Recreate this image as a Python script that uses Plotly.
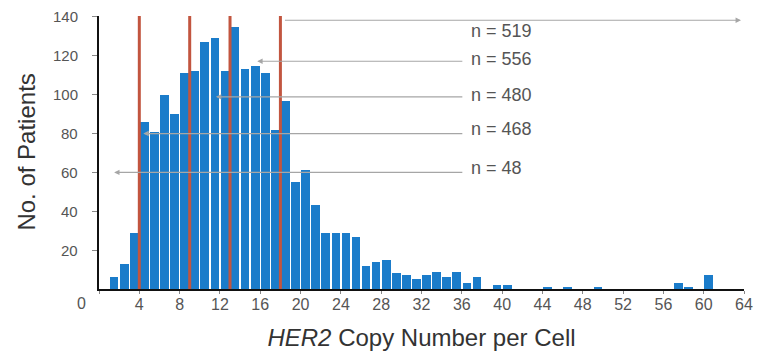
import plotly.graph_objects as go

# Patients per HER2 copy-number bin; bin k covers [k, k+1)
bin_start = list(range(1, 64))
patients = [
    6, 13, 29, 86, 81, 100, 90, 111, 112, 127,
    129, 112, 135, 113, 115, 111, 82, 97, 55, 61,
    43, 29, 29, 29, 27, 12, 14, 15, 8, 7,
    5, 7, 9, 6, 9, 3, 6, 0, 2, 2,
    0, 0, 0, 1, 0, 1, 0, 0, 1, 0,
    0, 0, 0, 0, 0, 0, 3, 1, 0, 7,
    0, 0, 0,
]

# Copy-number cut points drawn as vertical markers
cut_points = [4, 9, 13, 18]

# Group sizes and their pointer lines: (n, line y, arrow head x, arrow tail x, label y)
group_n = [519, 556, 480, 468, 48]
line_y = [138.3, 117.2, 98.9, 80.0, 60.0]
head_x = [63.7, 15.7, 11.6, 4.4, 1.5]
tail_x = [18.3, 36.2, 36.2, 36.2, 36.2]
label_y = [132.6, 118.6, 99.8, 82.6, 62.4]
label_x = 36.75

x_ticks = list(range(4, 65, 4))
y_ticks = list(range(20, 141, 20))

tick_font = "Liberation Sans Narrow, Arial Narrow, Liberation Sans, Arial, sans-serif"
title_font = "Liberation Sans, Arial, Helvetica, sans-serif"
tick_style = dict(family=tick_font, size=16, color="#555555")
ytick_style = dict(family=tick_font, size=15, color="#555555")

fig = go.Figure()
fig.add_trace(go.Bar(
    x=[b + 0.5 for b in bin_start],
    y=patients,
    width=0.86,
    marker=dict(color="#1b7cca", line=dict(width=0)),
    hoverinfo="x+y",
))

shapes = []
for c in cut_points:
    shapes.append(dict(type="line", xref="x", yref="y", x0=c, x1=c, y0=0, y1=141,
                       line=dict(color="#c2553f", width=3), layer="above"))

annotations = []
for n, ly, hx, tx, ty in zip(group_n, line_y, head_x, tail_x, label_y):
    annotations.append(dict(
        x=hx, y=ly, ax=tx, ay=ly, xref="x", yref="y", axref="x", ayref="y",
        text="", showarrow=True, arrowhead=2, arrowsize=0.9, arrowwidth=1.2,
        arrowcolor="#a6a6a6", standoff=0, startstandoff=0,
    ))
    annotations.append(dict(
        x=label_x, y=ty, xref="x", yref="y", text=f"n = {n}", showarrow=False,
        xanchor="left", yanchor="middle",
        font=dict(family=title_font, size=18, color="#555555"),
    ))

# Y tick labels, set a little further from the axis than Plotly's default
for v in y_ticks:
    annotations.append(dict(
        x=-0.029, y=v, xref="paper", yref="y", text=str(v), showarrow=False,
        xanchor="right", yanchor="middle", font=ytick_style,
    ))

# The zero label sits left of the vertical axis
annotations.append(dict(
    x=-0.0275, y=0, xref="paper", yref="paper", text="0", showarrow=False,
    xanchor="center", yanchor="top", yshift=-4, font=tick_style,
))

# Vertical axis title
annotations.append(dict(
    x=-0.113, y=0.5, xref="paper", yref="paper", text="No. of Patients",
    showarrow=False, textangle=-90, xanchor="center", yanchor="middle",
    font=dict(family=title_font, size=24, color="#333333"),
))

fig.update_layout(
    width=763, height=357,
    margin=dict(l=99, r=10, t=16, b=68),
    paper_bgcolor="white", plot_bgcolor="white",
    showlegend=False,
    bargap=0,
    shapes=shapes,
    annotations=annotations,
)

fig.update_xaxes(
    range=[0, 64], tickvals=x_ticks,
    showline=True, linecolor="#111111", linewidth=2,
    ticks="",
    minor=dict(ticks="outside", ticklen=3, tickcolor="#888888", tickwidth=1,
               tick0=0, dtick=4),
    showgrid=False, zeroline=False,
    tickfont=tick_style,
    title=dict(text="<i>HER2</i> Copy Number per Cell", standoff=17,
               font=dict(family=title_font, size=24, color="#333333")),
)
fig.update_yaxes(
    range=[0, 140.5], tickvals=y_ticks, showticklabels=False,
    showline=True, linecolor="#111111", linewidth=2,
    ticks="outside", ticklen=5, tickcolor="#888888", tickwidth=1,
    showgrid=False, zeroline=False,
)

fig.write_html("out.html")
